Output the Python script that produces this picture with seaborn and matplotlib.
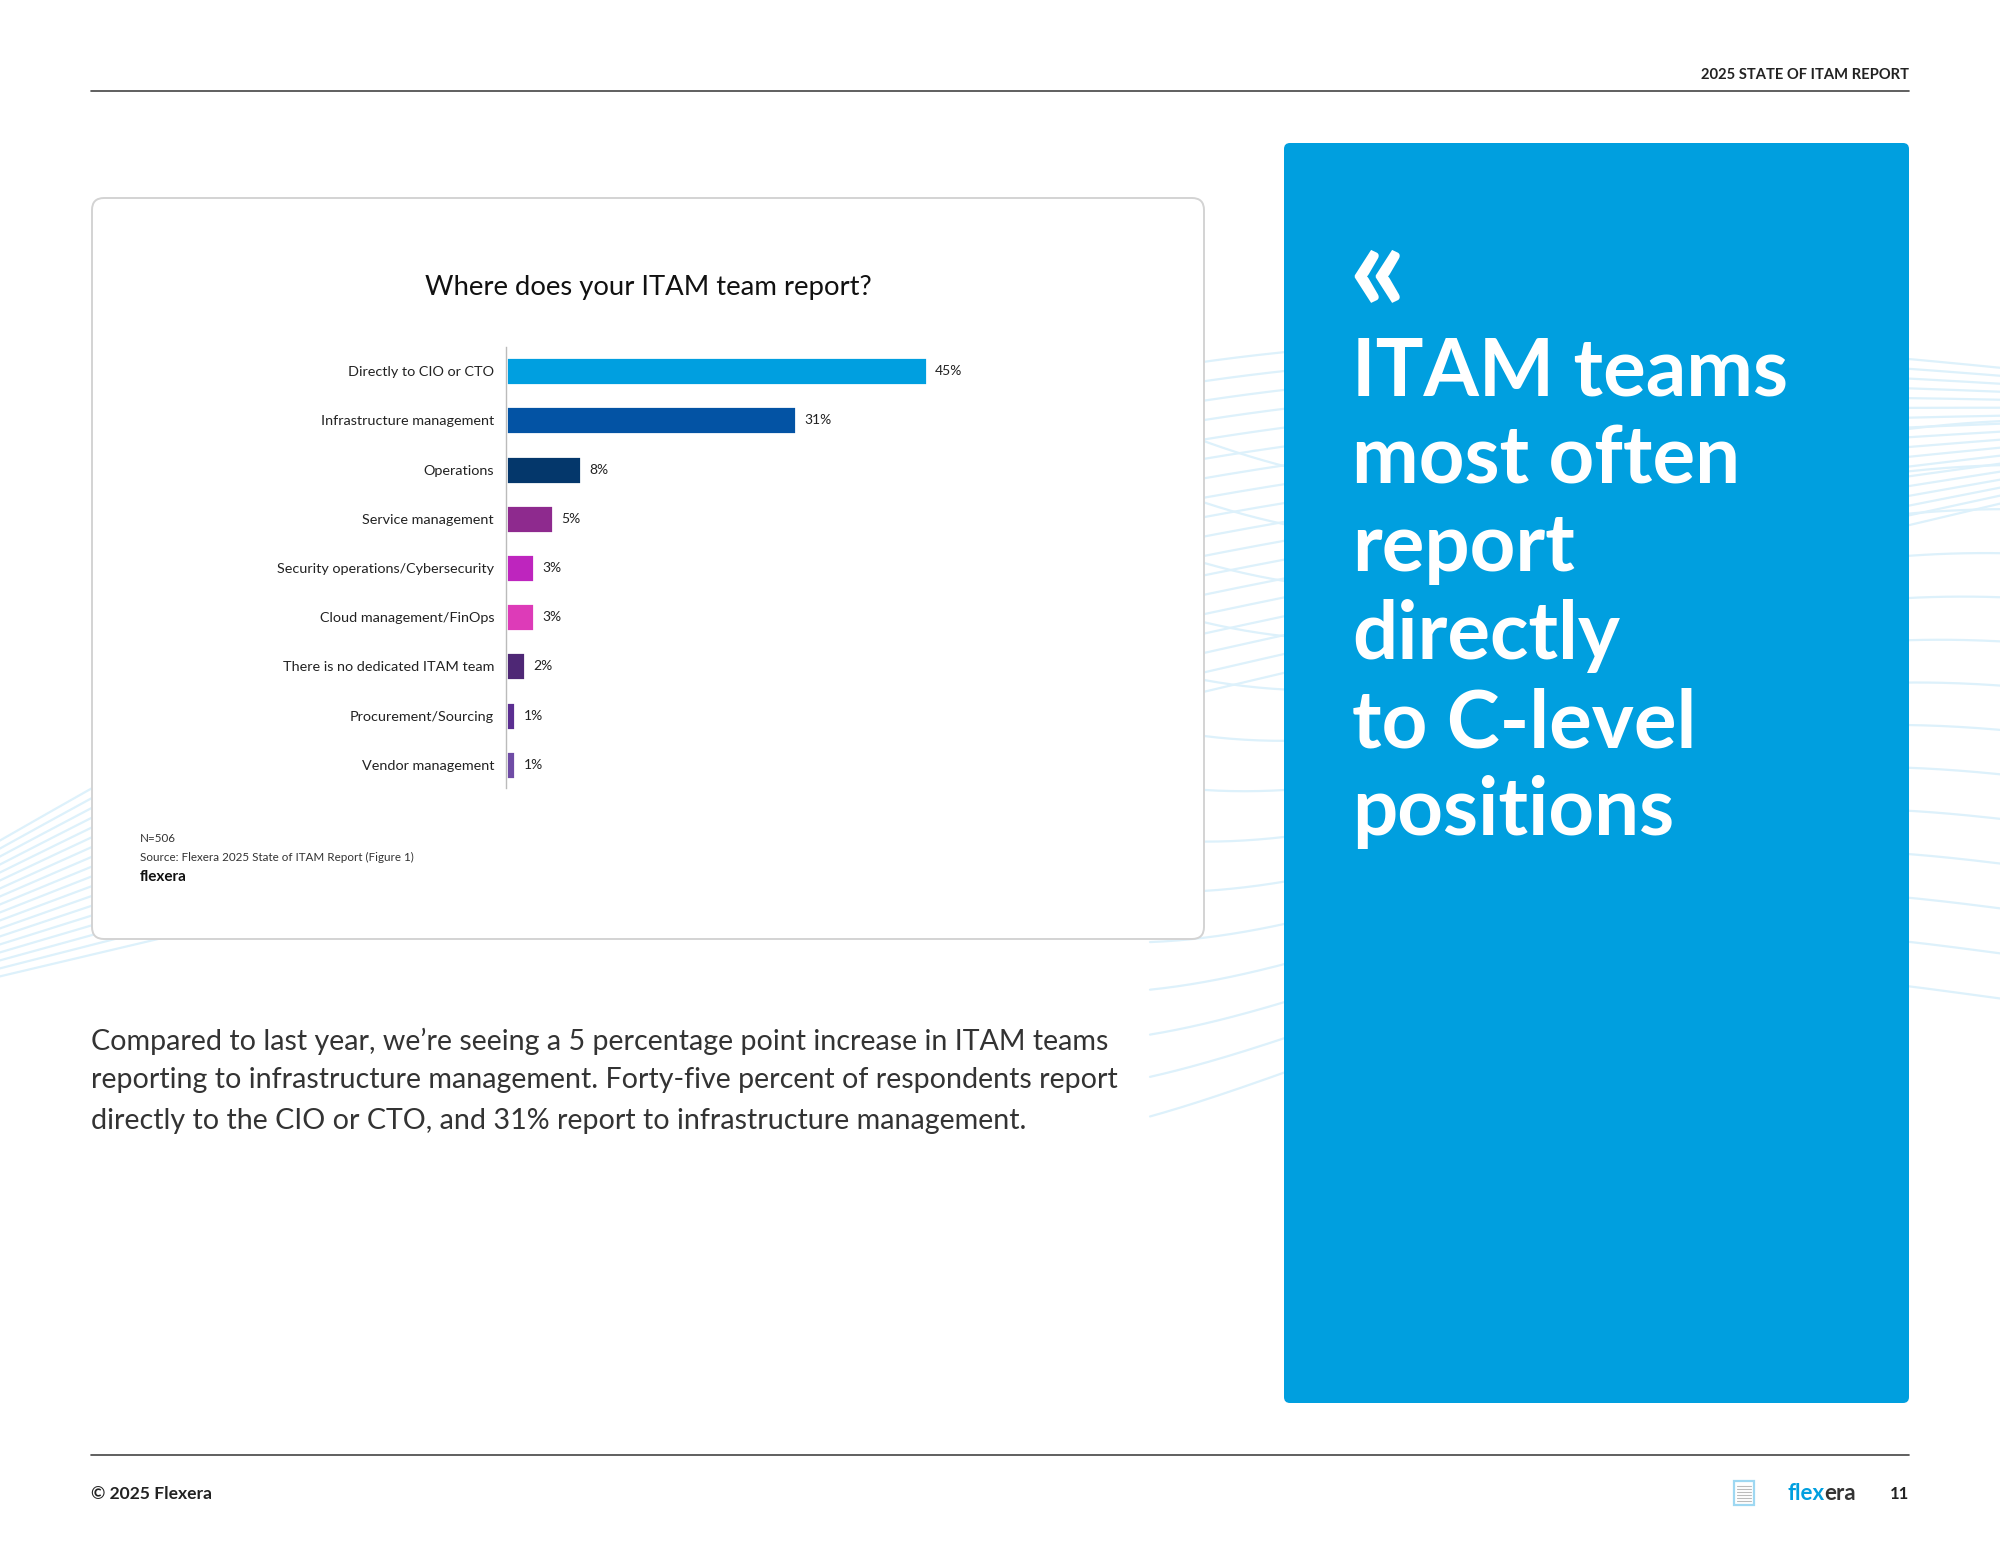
import numpy as np
import matplotlib.pyplot as plt
import seaborn as sns
from matplotlib.patches import FancyBboxPatch, Rectangle

# chart data
categories = ["Directly to CIO or CTO", "Infrastructure management", "Operations",
              "Service management", "Security operations/Cybersecurity",
              "Cloud management/FinOps", "There is no dedicated ITAM team",
              "Procurement/Sourcing", "Vendor management"]
values = [45, 31, 8, 5, 3, 3, 2, 1, 1]
bar_colors = ["#009FE0", "#0353A4", "#04376B", "#8E2A8E", "#BE25BE",
              "#DD3BB8", "#4E2775", "#5B2E91", "#6F4CA5"]

title = "Where does your ITAM team report?"
panel_lines = ["ITAM teams", "most often", "report", "directly", "to C-level", "positions"]
body_lines = [
    "Compared to last year, we\u2019re seeing a 5 percentage point increase in ITAM teams",
    "reporting to infrastructure management. Forty-five percent of respondents report",
    "directly to the CIO or CTO, and 31% report to infrastructure management.",
]

sns.set_style("white")
plt.rcParams["font.family"] = ["Lato", "DejaVu Sans"]

W, H = 2000, 1546
fig = plt.figure(figsize=(10, 7.73), dpi=200)

# page layer in pixel coordinates
bg = fig.add_axes([0, 0, 1, 1])
bg.set_xlim(0, W)
bg.set_ylim(H, 0)
bg.axis("off")

# faint decorative wave lines
t = np.linspace(0, 1, 200)
for k in range(18):
    xs = -100 + 2200 * t
    ys = 1000 - 520 * t - k * 14 * np.sin(np.pi * t) - k * 6
    bg.plot(xs, ys, color="#DDF1FB", lw=0.8, zorder=0)
for k in range(14):
    xs = 1150 + 900 * t
    ys = 420 + k * 45 + 120 * np.sin(np.pi * t + k * 0.15) * (1 - t)
    bg.plot(xs, ys, color="#DDF1FB", lw=0.8, zorder=0)

# header
bg.text(1909, 75, "2025 STATE OF ITAM REPORT", ha="right", va="center",
        fontsize=5.3, fontweight="bold", color="#222222")
bg.plot([91, 1909], [91, 91], color="#444444", lw=0.6, zorder=2)

# chart card
card = FancyBboxPatch((92, 198), 1112, 741, boxstyle="round,pad=0,rounding_size=12",
                      facecolor="white", edgecolor="#D3D3D3", lw=0.7, zorder=1)
bg.add_patch(card)
bg.text(648, 287, title, ha="center", va="center", fontsize=9.9, color="#111111")
bg.text(140, 839, "N=506", ha="left", va="center", fontsize=4.2, color="#333333")
bg.text(140, 857, "Source: Flexera 2025 State of ITAM Report (Figure 1)", ha="left",
        va="center", fontsize=4.2, color="#333333")
bg.text(140, 877, "flexera", ha="left", va="center", fontsize=5.5,
        fontweight="bold", color="#111111")

# blue callout panel
panel = FancyBboxPatch((1284, 143), 625, 1260, boxstyle="round,pad=0,rounding_size=6",
                       facecolor="#009FDF", edgecolor="none", zorder=1)
bg.add_patch(panel)
bg.text(1348, 274, "\u00ab", ha="left", va="center", fontsize=46,
        fontweight="bold", color="white", zorder=3)
baselines = [395, 483, 571, 659, 747, 835]
for line, yb in zip(panel_lines, baselines):
    bg.text(1352, yb, line, ha="left", va="baseline", fontsize=28.7,
            fontweight="bold", color="white", zorder=3)

# body paragraph
for line, yc in zip(body_lines, [1041, 1080, 1121]):
    bg.text(91, yc, line, ha="left", va="center", fontsize=10.3, color="#333333")

# footer
bg.plot([91, 1909], [1455, 1455], color="#444444", lw=0.6)
bg.text(91, 1494, "\u00a9 2025 Flexera", ha="left", va="center", fontsize=6.3,
        fontweight="bold", color="#222222")
bg.text(1909, 1494, "11", ha="right", va="center", fontsize=6.0,
        fontweight="bold", color="#222222")
logo = bg.text(1787, 1494, "flex", ha="left", va="center", fontsize=8,
               fontweight="bold", color="#009FDF")
bg.annotate("era", xy=(1, 0), xycoords=logo, ha="left", va="bottom",
            fontsize=8, fontweight="bold", color="#333333")
bg.add_patch(Rectangle((1734, 1481), 20, 24, facecolor="white",
                       edgecolor="#9ED8F2", lw=0.8))
for yy in range(1486, 1502, 3):
    bg.plot([1737, 1751], [yy, yy], color="#BBBBBB", lw=0.4)

# bar chart
ax = fig.add_axes([506 / W, 1 - 788 / H, 594 / W, 441 / H])
ax.set_facecolor("none")
sns.barplot(x=values, y=categories, hue=categories, palette=bar_colors,
            width=0.57, legend=False, ax=ax, saturation=1)
for cont in ax.containers:
    ax.bar_label(cont, labels=[f"{v:.0f}%" for v in cont.datavalues],
                 padding=3, fontsize=5, color="#222222")
ax.set_xlim(0, 63.5)
ax.set_ylim(8.47, -0.49)
ax.set_xlabel("")
ax.set_ylabel("")
ax.set_xticks([])
ax.tick_params(axis="y", length=0, pad=4.3, labelsize=5.2, labelcolor="#222222")
for side in ["top", "right", "bottom"]:
    ax.spines[side].set_visible(False)
ax.spines["left"].set_color("#BBBBBB")
ax.spines["left"].set_linewidth(0.5)

fig.savefig("out.png", dpi=200)
